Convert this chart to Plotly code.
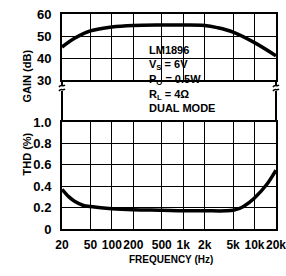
import math
import plotly.graph_objects as go

# ---- data ----
freq_gain = [20, 30, 50, 100, 200, 500, 1000, 2000, 3000, 5000, 10000, 20000]
gain_db = [45.0, 49.0, 52.3, 54.1, 54.8, 55.0, 55.0, 54.8, 53.8, 51.8, 47.0, 41.0]

freq_thd = [20, 25, 30, 40, 50, 100, 200, 500, 1000, 2000, 4000, 5000, 6000, 7000, 10000, 15000, 20000]
thd_pct = [0.37, 0.30, 0.26, 0.22, 0.21, 0.19, 0.18, 0.175, 0.17, 0.17, 0.17, 0.175, 0.19, 0.21, 0.29, 0.42, 0.55]

x_tickvals = [20, 50, 100, 200, 500, 1000, 2000, 5000, 10000, 20000]
x_ticktext = ["20", "50", "100", "200", "500", "1k", "2k", "5k", "10k", "20k"]
gain_ticks = [30, 40, 50, 60]
thd_ticks = [0, 0.2, 0.4, 0.6, 0.8, 1.0]
thd_ticktext = ["0", "0.2", "0.4", "0.6", "0.8", "1.0"]

W, H = 286, 276
L, R, T, B = 62, 10, 14, 47
PW, PH = W - L - R, H - T - B

def px(xp):
    return (xp - L) / PW

def py(yp):
    return (H - B - yp) / PH

FONT = "Liberation Sans, Arial, sans-serif"

fig = go.Figure()
fig.add_trace(go.Scatter(x=freq_gain, y=gain_db, xaxis="x2", yaxis="y2", mode="lines",
                         line=dict(color="black", width=3.5, shape="spline"), showlegend=False))
fig.add_trace(go.Scatter(x=freq_thd, y=thd_pct, xaxis="x", yaxis="y", mode="lines",
                         line=dict(color="black", width=3.5, shape="spline"), showlegend=False))

xr = [math.log10(20), math.log10(20000)]
tickf = dict(family=FONT, size=13, color="black", weight="bold")
axis_common = dict(showgrid=True, gridcolor="black", gridwidth=1.3, showline=True, linecolor="black",
                   linewidth=2, mirror=True, ticks="", zeroline=False, fixedrange=True)
fig.update_layout(
    width=W, height=H, margin=dict(l=L, r=R, t=T, b=B, autoexpand=False),
    plot_bgcolor="white", paper_bgcolor="white", showlegend=False,
    xaxis=dict(type="log", range=xr, tickvals=x_tickvals, ticktext=x_ticktext, domain=[0, 1], anchor="y",
               ticklabelstandoff=4, tickangle=0, ticklabeloverflow="allow",
               tickfont=dict(family=FONT, size=12, color="black", weight="bold"), **axis_common),
    xaxis2=dict(type="log", range=xr, tickvals=x_tickvals, showticklabels=False, domain=[0, 1], anchor="y2",
                matches="x", **axis_common),
    yaxis=dict(range=[0, 1.0], tickvals=thd_ticks, ticktext=thd_ticktext, domain=[0, py(122)], anchor="x",
               ticklabelstandoff=6, tickfont=tickf, **axis_common),
    yaxis2=dict(range=[30, 60], tickvals=gain_ticks, domain=[py(80), 1], anchor="x2",
                ticklabelstandoff=6, tickfont=tickf, **axis_common),
)

shapes = []
# white box behind the annotation text
shapes.append(dict(type="rect", xref="paper", yref="paper", x0=px(145), x1=px(214), y0=py(116), y1=py(42),
                   fillcolor="white", line=dict(width=0), layer="between"))
# borders through the axis break
for xb in (62, 276):
    shapes.append(dict(type="line", xref="paper", yref="paper", x0=px(xb), x1=px(xb), y0=py(80), y1=py(85),
                       line=dict(color="black", width=2)))
    shapes.append(dict(type="line", xref="paper", yref="paper", x0=px(xb), x1=px(xb), y0=py(91), y1=py(122),
                       line=dict(color="black", width=2)))
    for yb in (86, 90):
        pts = [(xb - 3, yb + 1), (xb - 1, yb - 2), (xb + 1, yb + 1), (xb + 3, yb - 1)]
        coords = [v for p in [(px(a), py(b)) for a, b in pts] for v in p]
        path = "M {} {} C {} {} {} {} {} {}".format(*coords)
        shapes.append(dict(type="path", xref="paper", yref="paper", path=path, line=dict(color="black", width=1.5)))
fig.update_layout(shapes=shapes)

ann = []
tf = dict(family=FONT, size=11, color="black", weight="bold")
ann.append(dict(text="GAIN (dB)", x=px(18), y=py(48), xref="paper", yref="paper", textangle=-90, showarrow=False, font=tf))
ann.append(dict(text="THD (%)", x=px(18), y=py(178), xref="paper", yref="paper", textangle=-90, showarrow=False, font=tf))
ann.append(dict(text="FREQUENCY (Hz)", x=px(171), y=py(267), xref="paper", yref="paper", showarrow=False,
                font=dict(family=FONT, size=10, color="black", weight="bold")))
lines = [("LM1896", 50), ("V<sub>S</sub> = 6V", 65), ("P<sub>O</sub> = 0.5W", 80), ("R<sub>L</sub> = 4Ω", 95), ("DUAL MODE", 108)]
for txt, yy in lines:
    ann.append(dict(text=txt, x=px(147), y=py(yy), xref="paper", yref="paper", xanchor="left", yanchor="middle",
                    showarrow=False, font=tf))
fig.update_layout(annotations=ann)

fig.write_html("out.html", config={"displayModeBar": False},
               post_script="document.body.style.margin='0px';")
